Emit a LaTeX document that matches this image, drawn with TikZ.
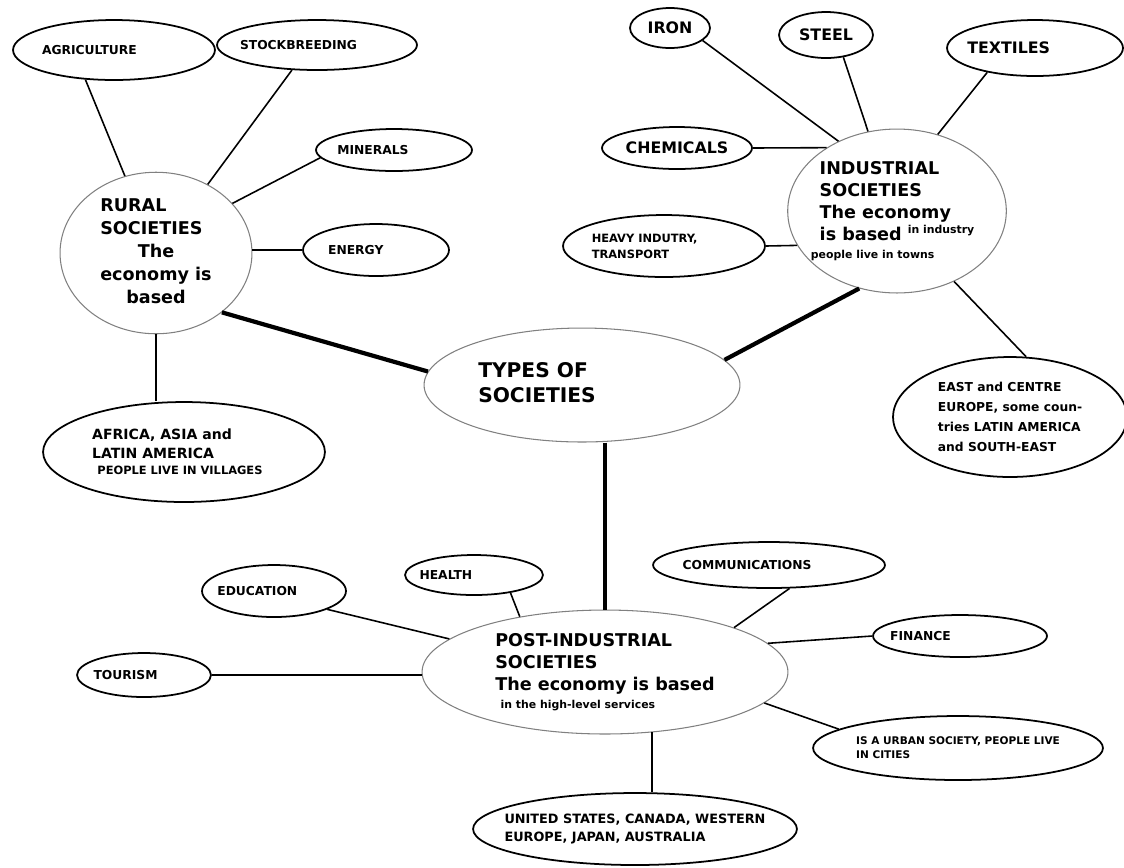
\documentclass[tikz,border=0pt]{standalone}
\usepackage{fontspec}
\setmainfont{DejaVu Sans}
\usetikzlibrary{shapes.geometric}
\newcommand{\wee}{\fontsize{6.2}{7}\selectfont}
\begin{document}
\begin{tikzpicture}[x=0.02cm, y=-0.02cm,
    oval/.style 2 args={minimum width=#1*0.04cm, minimum height=#2*0.04cm},
    leaf/.style={draw, ellipse, line width=1pt, inner xsep=-14pt, inner ysep=-2pt,
        align=left, font=\bfseries\fontsize{7}{8.5}\selectfont},
    hub/.style={draw=gray, ellipse, line width=0.6pt, inner sep=0pt, align=left, font=\bfseries},
    link/.style={line width=0.9pt},
    trunk/.style={line width=2.4pt}]
    \useasboundingbox (0,0) rectangle (1124,867);

    % Centre
    \node[hub, oval={158}{57}, font=\bfseries\fontsize{11.5}{14.5}\selectfont] (types) at (582,385)
        {\begin{tabular}{@{}l@{\hspace{1.8cm}}}TYPES OF\\SOCIETIES\end{tabular}};

    % Rural societies
    \node[hub, oval={96}{79}, font=\bfseries\fontsize{10}{13}\selectfont] (rural) at (156,253)
        {\begin{tabular}{@{}l@{}}RURAL\\SOCIETIES\\\multicolumn{1}{@{}c@{}}{The}\\
         \multicolumn{1}{@{}c@{}}{economy is}\\\multicolumn{1}{@{}c@{}}{based}\end{tabular}};
    \node[leaf, oval={101}{30}] (agri) at (114,50) {AGRICULTURE\kern28pt};
    \node[leaf, oval={100}{25}] (stock) at (317,45) {STOCKBREEDING\kern21pt};
    \node[leaf, oval={78}{21}] (minerals) at (394,150) {MINERALS\kern24pt};
    \node[leaf, oval={73}{26}] (energy) at (376,250) {ENERGY\kern23pt};
    \node[leaf, oval={141}{50}, font=\bfseries\fontsize{8}{10.5}\selectfont] (africa) at (184,452)
        {AFRICA, ASIA and\kern25pt\\LATIN AMERICA\\[-1pt]\hspace*{3pt}{\fontsize{6.5}{7.5}\selectfont PEOPLE LIVE IN VILLAGES}};
    \draw[link] (agri.-134) -- (rural.112);
    \draw[link] (stock.-135) -- (rural.53);
    \draw[link] (minerals.-174) -- (rural.33);
    \draw[link] (energy.west) -- (energy.west -| rural.east);
    \draw[link] (rural.south) -- (rural.south |- africa.north);

    % Industrial societies
    \node[hub, oval={105}{82}, font=\bfseries\fontsize{10}{12.5}\selectfont] (industrial) at (897,211)
        {INDUSTRIAL\\SOCIETIES\\The economy\\is based \raisebox{4pt}{\wee in industry}\\[-2pt]
         \hspace*{-5pt}{\wee people live in towns}};
    \node[leaf, oval={40}{20}, font=\bfseries\fontsize{9}{11}\selectfont] (iron) at (670,28) {IRON};
    \node[leaf, oval={47}{23}, font=\bfseries\fontsize{9}{11}\selectfont] (steel) at (826,35) {STEEL};
    \node[leaf, oval={88}{28}, font=\bfseries\fontsize{9}{11}\selectfont] (textiles) at (1035,48) {TEXTILES\kern30pt};
    \node[leaf, oval={75}{21}, font=\bfseries\fontsize{9}{11}\selectfont] (chemicals) at (677,148) {CHEMICALS};
    \node[leaf, oval={101}{31}, font=\bfseries\fontsize{6.5}{9}\selectfont] (heavy) at (664,246)
        {HEAVY INDUTRY,\kern22pt\\TRANSPORT};
    \node[leaf, oval={117}{60}, font=\bfseries\fontsize{7}{11.5}\selectfont] (east) at (1010,417)
        {EAST and CENTRE\\EUROPE, some coun-\\tries LATIN AMERICA\\and SOUTH-EAST};
    \draw[link] (iron.-21) -- (industrial.130);
    \draw[link] (steel.-52) -- (industrial.110);
    \draw[link] (textiles.-153) -- (industrial.62);
    \draw[link] (chemicals.east) -- (industrial.138);
    \draw[link] (heavy.east) -- (industrial.-161);
    \draw[link] (industrial.-51) -- (east.75);

    % Post-industrial societies
    \node[hub, oval={183}{62}, font=\bfseries\fontsize{10}{12.5}\selectfont] (post) at (605,672)
        {POST-INDUSTRIAL\\SOCIETIES\\The economy is based\\[-2pt]\hspace*{3pt}{\wee in the high-level services}};
    \node[leaf, oval={72}{26}] (education) at (274,591) {EDUCATION\kern19pt};
    \node[leaf, oval={69}{20}] (health) at (474,575) {HEALTH\kern32pt};
    \node[leaf, oval={67}{22}] (tourism) at (144,675) {TOURISM\kern21pt};
    \node[leaf, oval={116}{23}] (comms) at (769,565) {COMMUNICATIONS\kern25pt};
    \node[leaf, oval={87}{21}] (finance) at (960,636) {FINANCE\kern45pt};
    \node[leaf, oval={145}{32}, font=\bfseries\fontsize{6}{8}\selectfont] (urban) at (958,748)
        {IS A URBAN SOCIETY, PEOPLE LIVE\\IN CITIES};
    \node[leaf, oval={162}{36}, font=\bfseries\fontsize{7.3}{10}\selectfont] (countries) at (635,829)
        {UNITED STATES, CANADA, WESTERN\\EUROPE, JAPAN, AUSTRALIA};
    \draw[link] (education.-19) -- (post.168);
    \draw[link] (health.-26) -- (post.147);
    \draw[link] (tourism.east) -- (tourism.east -| post.west);
    \draw[link] (comms.-49) -- (post.19);
    \draw[link] (finance.west) -- (post.10);
    \draw[link] (urban.171) -- (post.-11);
    \draw[link] (post.-52) -- (post.-52 |- countries.north);

    % Trunks
    \draw[trunk] (rural.-42) -- (types.175);
    \draw[trunk] (types.10) -- (industrial.-116);
    \draw[trunk] (post.north |- types.south) -- (post.north);
\end{tikzpicture}
\end{document}
